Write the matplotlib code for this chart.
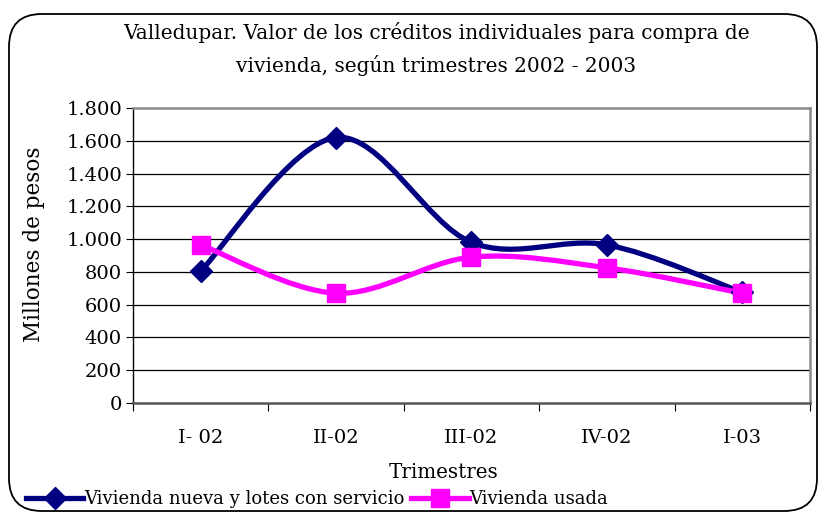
import matplotlib
matplotlib.use("Agg")
import matplotlib.pyplot as plt
from matplotlib.path import Path
from matplotlib.patches import PathPatch, FancyBboxPatch
from matplotlib.lines import Line2D

categories = ["I- 02", "II-02", "III-02", "IV-02", "I-03"]
nueva = [805, 1620, 980, 965, 675]
usada = [965, 670, 890, 825, 670]
yticks = [0, 200, 400, 600, 800, 1000, 1200, 1400, 1600, 1800]
ytick_labels = ["0", "200", "400", "600", "800", "1.000", "1.200", "1.400", "1.600", "1.800"]
title = "Valledupar. Valor de los créditos individuales para compra de\nvivienda, según trimestres 2002 - 2003"
series_names = ["Vivienda nueva y lotes con servicio", "Vivienda usada"]

SERIF = ["DejaVu Serif"]
plt.rcParams["font.family"] = SERIF

fig = plt.figure(figsize=(8.19, 5.14), dpi=100)
fig.patch.set_facecolor("white")

# rounded outer frame
frame = FancyBboxPatch((9/819, 3/514), 808/819, 497/514,
                       boxstyle="round,pad=0,rounding_size=0.04",
                       transform=fig.transFigure, fill=False,
                       edgecolor="black", linewidth=1.3, mutation_aspect=819/514)
fig.patches.append(frame)

ax = fig.add_axes([133/819, 1 - 403/514, 677/819, 295/514])
x = list(range(len(categories)))


def smooth_path(xs, ys):
    verts = [(xs[0], ys[0])]
    codes = [Path.MOVETO]
    n = len(xs)
    for i in range(n - 1):
        p0 = (xs[i - 1], ys[i - 1]) if i > 0 else (xs[i], ys[i])
        p1 = (xs[i], ys[i])
        p2 = (xs[i + 1], ys[i + 1])
        p3 = (xs[i + 2], ys[i + 2]) if i + 2 < n else p2
        c1 = (p1[0] + (p2[0] - p0[0]) / 6, p1[1] + (p2[1] - p0[1]) / 6)
        c2 = (p2[0] - (p3[0] - p1[0]) / 6, p2[1] - (p3[1] - p1[1]) / 6)
        verts += [c1, c2, p2]
        codes += [Path.CURVE4] * 3
    return Path(verts, codes)


specs = [
    (nueva, "#000080", "D", 11.5),
    (usada, "#FF00FF", "s", 12.5),
]
for vals, col, mk, ms in specs:
    ax.add_patch(PathPatch(smooth_path(x, vals), fill=False, edgecolor=col,
                           linewidth=3.8, capstyle="round", joinstyle="round", zorder=3))
for vals, col, mk, ms in specs:
    ax.plot(x, vals, linestyle="none", marker=mk, markersize=ms, color=col, zorder=4)

ax.set_xlim(-0.5, 4.5)
ax.set_ylim(0, 1800)
ax.set_yticks(yticks)
ax.set_yticklabels(ytick_labels, fontsize=14)
ax.set_xticks([i - 0.5 for i in range(len(categories) + 1)])
ax.set_xticklabels([])
ax.set_xticks(x, minor=True)
ax.set_xticklabels(categories, minor=True, fontsize=14)
ax.tick_params(axis="x", which="minor", length=0, pad=19)
ax.tick_params(axis="x", which="major", direction="out", length=6, color="black")
ax.tick_params(axis="y", direction="out", length=5, color="black", pad=3)

for yv in yticks[1:-1]:
    ax.axhline(yv, color="black", linewidth=0.9, zorder=1)

ax.spines["left"].set_color("black")
ax.spines["left"].set_linewidth(1.0)
ax.spines["bottom"].set_color("#555555")
ax.spines["bottom"].set_linewidth(1.8)
ax.spines["top"].set_color("#8a8a8a")
ax.spines["top"].set_linewidth(1.8)
ax.spines["right"].set_color("#8a8a8a")
ax.spines["right"].set_linewidth(1.8)

fig.text(34/819, 1 - 244/514, "Millones de pesos", ha="center", va="center",
         rotation=90, fontsize=15.5)

fig.text(444/819, 1 - 473/514, "Trimestres", ha="center", va="center", fontsize=14.3)

fig.text(436/819, 1 - 49/514, title, ha="center", va="center", fontsize=14.5,
         linespacing=1.65)

handles = [Line2D([], [], color=c, linewidth=3.8, marker=m, markersize=ms)
           for _, c, m, ms in specs]
fig.legend(handles, series_names, loc="lower left", bbox_to_anchor=(22/819, 2/514),
           ncol=2, frameon=False, fontsize=13, handlelength=3.2, handletextpad=0.05,
           columnspacing=0.35, borderaxespad=0, borderpad=0.2)

fig.savefig("out.png", dpi=100, facecolor="white")
